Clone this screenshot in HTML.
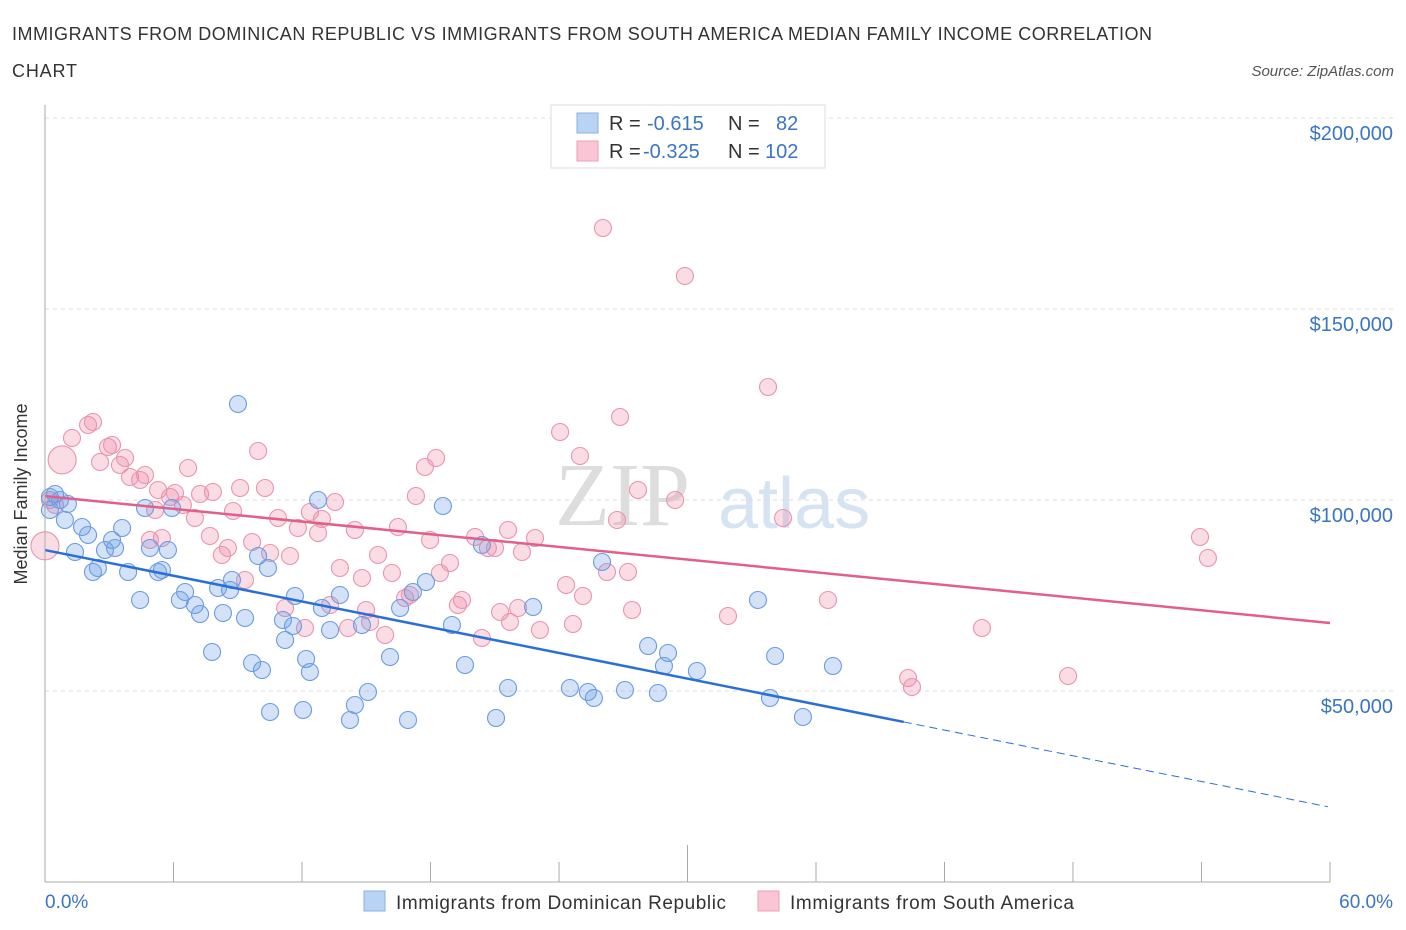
<!DOCTYPE html>
<html><head><meta charset="utf-8"><style>
body{margin:0;background:#fff;font-family:"Liberation Sans",sans-serif}
svg{display:block}
</style></head><body>
<svg id="c" width="1406" height="930">
<text x="12" y="40" font-size="18" fill="#333" textLength="1140">IMMIGRANTS FROM DOMINICAN REPUBLIC VS IMMIGRANTS FROM SOUTH AMERICA MEDIAN FAMILY INCOME CORRELATION</text>
<text x="12" y="77" font-size="18" fill="#333" textLength="65">CHART</text>
<text x="1394" y="76" font-size="15" fill="#555" font-style="italic" text-anchor="end">Source: ZipAtlas.com</text>
<text x="27" y="494" font-size="18" fill="#333" text-anchor="middle" transform="rotate(-90 27 494)">Median Family Income</text>
<text x="555" y="525" font-size="90" fill="#ddd" font-family="Liberation Serif,serif">ZIP</text>
<text x="718" y="528" font-size="72" fill="#d6e3f3">atlas</text>
<g id="grid"></g><g id="pts"></g><g id="lines"></g>
<line x1="45" y1="105" x2="45" y2="882" stroke="#aaa"/>
<line x1="45" y1="882" x2="1330" y2="882" stroke="#aaa"/>
<text x="45" y="908" font-size="19" fill="#3a75c4">0.0%</text>
<text x="1393" y="908" font-size="19" fill="#3a75c4" text-anchor="end">60.0%</text>
<g>
<rect x="551" y="105" width="274" height="63" fill="#fff" stroke="#ddd"/>
<rect x="577" y="113" width="21" height="20" fill="#b9d3f5" stroke="#8ab0e8"/>
<rect x="577" y="141" width="21" height="20" fill="#fac6d5" stroke="#ef9fb7"/>
<text x="609" y="130" font-size="20" fill="#333">R = <tspan x="647" fill="#3a75c4">-0.615</tspan><tspan x="728">N = </tspan><tspan x="776" fill="#3a75c4">82</tspan></text>
<text x="609" y="158" font-size="20" fill="#333">R = <tspan x="643" fill="#3a75c4">-0.325</tspan><tspan x="728">N = </tspan><tspan x="765" fill="#3a75c4">102</tspan></text>
</g>
<g>
<rect x="364" y="891" width="21" height="20" fill="#b9d3f5" stroke="#8ab0e8"/>
<text x="396" y="909" font-size="19" fill="#333" textLength="330">Immigrants from Dominican Republic</text>
<rect x="758" y="891" width="21" height="20" fill="#fac6d5" stroke="#ef9fb7"/>
<text x="790" y="909" font-size="19" fill="#333" textLength="284">Immigrants from South America</text>
</g>
</svg>
<script>
const yTicks=[50000,100000,150000,200000];
const yTickLabels=["$50,000","$100,000","$150,000","$200,000"];
const xTicks=[0,6,12,18,24,30,36,42,48,54,60];
const bluePx=[[50,497],[55,494],[60,500],[68,504],[65,520],[82,527],[88,535],[75,552],[105,550],[112,540],[122,528],[93,572],[98,568],[115,548],[128,572],[140,600],[150,548],[158,572],[162,570],[168,550],[145,508],[172,508],[180,600],[185,592],[195,605],[200,614],[212,652],[218,588],[223,613],[232,580],[230,590],[245,618],[238,404],[252,663],[262,670],[258,556],[268,568],[270,712],[283,620],[285,640],[293,626],[295,596],[303,710],[306,659],[310,672],[318,500],[322,608],[330,630],[340,595],[350,720],[355,705],[362,625],[368,692],[390,657],[400,608],[408,720],[413,592],[426,582],[443,506],[452,625],[465,665],[482,545],[496,718],[508,688],[533,607],[570,688],[588,692],[594,698],[602,562],[625,690],[648,646],[658,693],[664,666],[668,653],[697,671],[758,600],[770,698],[775,656],[803,717],[833,666],[50,510]];
const pinkPx=[[72,438],[88,425],[93,422],[100,462],[108,447],[112,445],[120,465],[125,458],[130,477],[140,480],[145,475],[155,510],[150,540],[162,538],[158,490],[170,497],[175,493],[183,505],[188,468],[195,518],[200,494],[210,536],[213,492],[222,555],[228,548],[233,511],[240,488],[245,580],[252,542],[258,451],[265,488],[270,553],[278,518],[285,608],[290,556],[298,528],[305,628],[310,512],[318,533],[322,519],[330,605],[335,502],[340,568],[348,628],[355,530],[362,578],[366,610],[370,622],[378,555],[385,635],[392,573],[398,527],[405,598],[410,595],[416,496],[425,467],[430,540],[436,458],[440,573],[450,563],[458,605],[462,600],[475,537],[482,638],[488,548],[495,548],[500,612],[508,530],[510,622],[518,608],[522,552],[535,538],[540,630],[560,432],[566,585],[573,624],[580,456],[583,596],[603,228],[607,572],[617,520],[620,417],[628,572],[632,610],[638,490],[675,500],[685,276],[728,616],[768,387],[783,518],[828,600],[908,678],[912,687],[982,628],[1068,676],[1200,537],[1208,558],[50,500],[55,505]];
// convert read pixel estimates to data values (pct, income)
const blueX=bluePx.map(p=>+((p[0]-45)/1285*60).toFixed(2));
const blueY=bluePx.map(p=>Math.round((882-p[1])/382*100000));
const pinkX=pinkPx.map(p=>+((p[0]-45)/1285*60).toFixed(2));
const pinkY=pinkPx.map(p=>Math.round((882-p[1])/382*100000));
const bigPink=[[0,88000],[0.8,110500]];
const blueTrend=[[0,86900],[40.1,41900],[59.9,19700]];
const pinkTrend=[[0,101000],[60,67800]];
const X=v=>45+v/60*1285, Y=v=>882-v/100000*382;
const NS="http://www.w3.org/2000/svg";
function mk(t,a,p){const e=document.createElementNS(NS,t);for(const k in a)e.setAttribute(k,a[k]);p.appendChild(e);return e;}
const grid=document.getElementById('grid');
yTicks.forEach((t,i)=>{
 const l=mk('line',{x1:45,x2:1395,y1:Y(t),y2:Y(t),stroke:'#ddd','stroke-dasharray':'4,4'},grid);
 
 
 const tx=mk('text',{x:1393,y:Y(t)+22,'font-size':20,fill:'#3a75c4','text-anchor':'end'},grid);
 tx.textContent=yTickLabels[i];
 
 
});
xTicks.forEach((t,i)=>{
 const l=mk('line',{x1:X(t),x2:X(t),y1:i==5?845:862,y2:882,stroke:'#aaa'},grid);
 
 
});
const pts=document.getElementById('pts');
function dot(x,y,r,blue){
 const c=mk('circle',{cx:X(x),cy:Y(y),r:r,fill:blue?'rgba(110,160,230,0.3)':'rgba(240,140,170,0.3)',stroke:blue?'#6b9be3':'#eb93ae','stroke-width':1.1},pts);
 
 
}
bigPink.forEach(p=>dot(p[0],p[1],14,false));
pinkX.forEach((x,i)=>dot(x,pinkY[i],8.5,false));
blueX.forEach((x,i)=>dot(x,blueY[i],8.5,true));
const lines=document.getElementById('lines');
let l=mk('line',{x1:X(blueTrend[0][0]),y1:Y(blueTrend[0][1]),x2:X(blueTrend[1][0]),y2:Y(blueTrend[1][1]),stroke:'#2a6fd6','stroke-width':2.5},lines);


l=mk('line',{x1:X(blueTrend[1][0]),y1:Y(blueTrend[1][1]),x2:X(blueTrend[2][0]),y2:Y(blueTrend[2][1]),stroke:'#2a6fd6','stroke-width':1,'stroke-dasharray':'8,5'},lines);


l=mk('line',{x1:X(pinkTrend[0][0]),y1:Y(pinkTrend[0][1]),x2:X(pinkTrend[1][0]),y2:Y(pinkTrend[1][1]),stroke:'#e0608a','stroke-width':2.5},lines);


</script>
</body></html>
